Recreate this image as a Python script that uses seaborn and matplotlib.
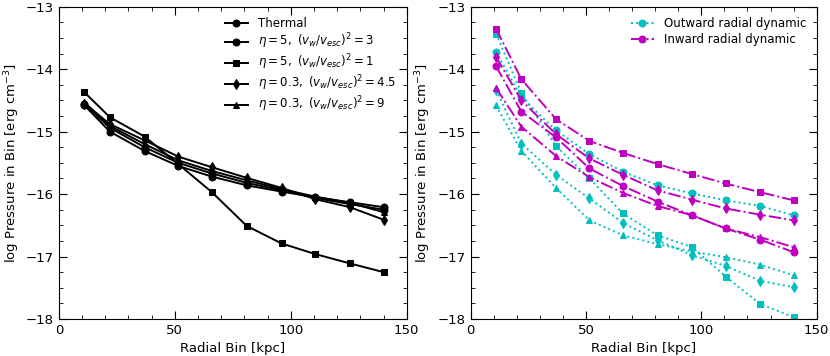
import matplotlib
matplotlib.use('Agg')
import matplotlib.pyplot as plt
import seaborn as sns
import numpy as np
from matplotlib.ticker import MultipleLocator

# radial bin centres [kpc]
radius = [11, 22, 37, 51.5, 66, 81, 96, 110.5, 125.5, 140]

# left panel: log pressure per bin
thermal = [-14.58, -15.00, -15.31, -15.55, -15.72, -15.86, -15.96, -16.05, -16.13, -16.21]
eta5_v3 = [-14.56, -14.94, -15.25, -15.50, -15.67, -15.82, -15.94, -16.06, -16.16, -16.25]
eta5_v1 = [-14.37, -14.77, -15.08, -15.52, -15.97, -16.51, -16.79, -16.96, -17.11, -17.25]
eta03_v45 = [-14.55, -14.88, -15.14, -15.40, -15.57, -15.74, -15.90, -16.08, -16.21, -16.41]
eta03_v9 = [-14.53, -14.91, -15.20, -15.46, -15.63, -15.78, -15.92, -16.04, -16.14, -16.29]

# right panel: outward (cyan) and inward (magenta) radial dynamic
out_circ = [-13.72, -14.45, -14.98, -15.36, -15.64, -15.86, -15.99, -16.10, -16.19, -16.34]
out_sq = [-13.43, -14.38, -15.23, -15.75, -16.31, -16.66, -16.85, -17.32, -17.76, -17.97]
out_dia = [-14.33, -15.19, -15.69, -16.07, -16.46, -16.74, -16.98, -17.15, -17.39, -17.49]
out_tri = [-14.58, -15.31, -15.90, -16.42, -16.66, -16.80, -16.92, -17.01, -17.13, -17.30]

in_circ = [-13.95, -14.68, -15.09, -15.59, -15.87, -16.12, -16.34, -16.55, -16.73, -16.93]
in_sq = [-13.35, -14.16, -14.80, -15.15, -15.34, -15.52, -15.68, -15.83, -15.97, -16.10]
in_dia = [-13.80, -14.50, -15.04, -15.43, -15.69, -15.94, -16.09, -16.23, -16.33, -16.42]
in_tri = [-14.30, -14.92, -15.39, -15.73, -15.98, -16.19, -16.34, -16.55, -16.69, -16.85]

vlab = r'$(v_w/v_{esc})^2$'
left_series = [
    ('Thermal', thermal, 'o'),
    (r'$\eta=5,$ ' + vlab + r'$=3$', eta5_v3, 'o'),
    (r'$\eta=5,$ ' + vlab + r'$=1$', eta5_v1, 's'),
    (r'$\eta=0.3,$ ' + vlab + r'$=4.5$', eta03_v45, 'd'),
    (r'$\eta=0.3,$ ' + vlab + r'$=9$', eta03_v9, '^'),
]

fig = plt.figure(figsize=(8.3, 3.56), dpi=100)
ax1 = fig.add_axes([0.071, 0.104, 0.419, 0.877])
ax2 = fig.add_axes([0.567, 0.104, 0.417, 0.877])

for lab, vals, mk in left_series:
    sns.lineplot(x=radius, y=vals, ax=ax1, color='k', marker=mk, markersize=5,
                 markeredgecolor='k', linewidth=1.4, label=lab)

out_series = [(out_circ, 'o'), (out_sq, 's'), (out_dia, 'd'), (out_tri, '^')]
in_series = [(in_circ, 'o'), (in_sq, 's'), (in_dia, 'd'), (in_tri, '^')]
for i, (vals, mk) in enumerate(out_series):
    sns.lineplot(x=radius, y=vals, ax=ax2, color='c', marker=mk, markersize=5,
                 markeredgecolor='c', linestyle=':', linewidth=1.4,
                 label='Outward radial dynamic' if i == 0 else None)
for i, (vals, mk) in enumerate(in_series):
    sns.lineplot(x=radius, y=vals, ax=ax2, color='m', marker=mk, markersize=5,
                 markeredgecolor='m', linestyle='-.', linewidth=1.4,
                 label='Inward radial dynamic' if i == 0 else None)

for ax in (ax1, ax2):
    ax.set_xlim(0, 150)
    ax.set_ylim(-18, -13)
    ax.xaxis.set_major_locator(MultipleLocator(50))
    ax.xaxis.set_minor_locator(MultipleLocator(10))
    ax.yaxis.set_major_locator(MultipleLocator(1))
    ax.yaxis.set_minor_locator(MultipleLocator(0.25))
    ax.tick_params(which='both', direction='in', top=True, right=True, labelsize=9.5)
    ax.tick_params(which='major', length=6)
    ax.tick_params(which='minor', length=3)
    ax.set_xlabel('Radial Bin [kpc]', fontsize=9.5)
    ax.set_ylabel(r'log Pressure in Bin [erg cm$^{-3}$]', fontsize=9.5, labelpad=3)

ax1.legend(loc='upper right', frameon=False, fontsize=8.5, handlelength=2.0,
           labelspacing=0.12)
ax2.legend(loc='upper right', frameon=False, fontsize=8.5, handlelength=2.0,
           labelspacing=0.25)

fig.savefig('out.png', dpi=100)
